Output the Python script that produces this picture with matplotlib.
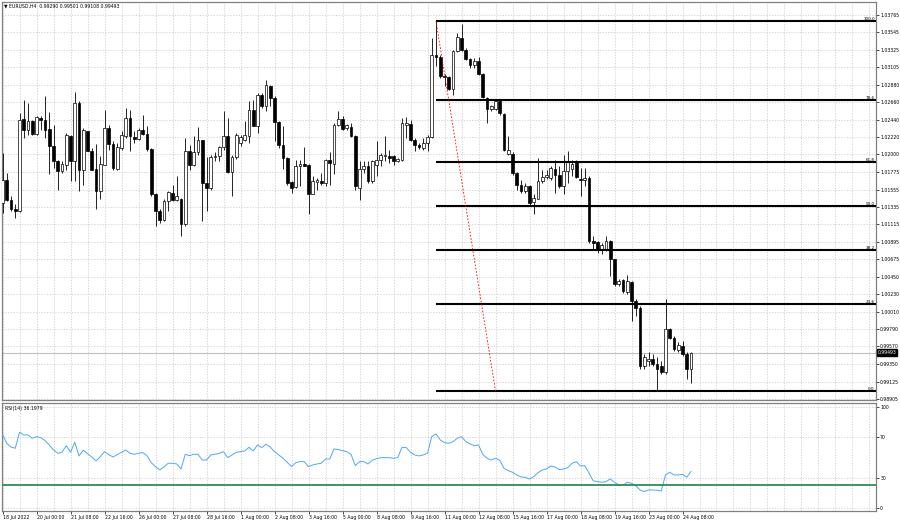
import numpy as np
import matplotlib.pyplot as plt

# EURUSD H4 bars, 18 Jul 2022 16:00 .. 24 Aug 2022 16:00
opens = [1.01388, 1.01682, 1.01417, 1.01304, 1.01283, 1.02448, 1.02305, 1.02419, 1.02259, 1.02461,
         1.02440, 1.02322, 1.02112, 1.01914, 1.01788, 1.01872, 1.02238, 1.01914, 1.02650, 1.01809,
         1.02293, 1.02048, 1.01817, 1.01535, 1.01872, 1.02335, 1.02137, 1.01817, 1.02078, 1.02229,
         1.02461, 1.02217, 1.02200, 1.02305, 1.02259, 1.02074, 1.01493, 1.01283, 1.01169, 1.01409,
         1.01514, 1.01421, 1.01438, 1.01114, 1.02040, 1.01872, 1.02027, 1.02179, 1.01640, 1.01577,
         1.01968, 1.01985, 1.02095, 1.02229, 1.01775, 1.01968, 1.02140, 1.02187, 1.02238, 1.02566,
         1.02364, 1.02755, 1.02608, 1.02869, 1.02713, 1.02406, 1.02124, 1.01956, 1.01649, 1.01590,
         1.01851, 1.01880, 1.01872, 1.01502, 1.01649, 1.01661, 1.01640, 1.01926, 1.01884, 1.02377,
         1.02448, 1.02330, 1.02347, 1.02237, 1.01577, 1.01817, 1.01850, 1.01661, 1.01871, 1.01926,
         1.01985, 1.01985, 1.01977, 1.01922, 1.01934, 1.02376, 1.02389, 1.02187, 1.02124, 1.02082,
         1.02145, 1.02221, 1.03260, 1.03239, 1.02995, 1.02974, 1.02826, 1.03315, 1.03470, 1.03323,
         1.03205, 1.03134, 1.03188, 1.03020, 1.02713, 1.02574, 1.02574, 1.02671, 1.02515, 1.02010,
         1.02010, 1.01766, 1.01619, 1.01535, 1.01598, 1.01396, 1.01438, 1.01661, 1.01716, 1.01703,
         1.01817, 1.01745, 1.01598, 1.01787, 1.01817, 1.01914, 1.01690, 1.01682, 1.01703, 1.00904,
         1.00891, 1.00798, 1.00798, 1.00904, 1.00672, 1.00357, 1.00411, 1.00260, 1.00386, 1.00146,
         1.00062, 0.99326, 0.99389, 0.99410, 0.99347, 0.99326, 0.99241, 0.99788, 0.99683, 0.99528,
         0.99578, 0.99473, 0.99290]
highs = [1.02019, 1.01767, 1.01480, 1.01367, 1.02524, 1.02692, 1.02650, 1.02440, 1.02482, 1.02482,
         1.02734, 1.02532, 1.02377, 1.01935, 1.01914, 1.02271, 1.02250, 1.02785, 1.02671, 1.02335,
         1.02301, 1.02082, 1.02137, 1.01985, 1.02566, 1.02377, 1.02166, 1.02145, 1.02292, 1.02587,
         1.02566, 1.02292, 1.02335, 1.02503, 1.02356, 1.02082, 1.01514, 1.01304, 1.01430, 1.01535,
         1.01619, 1.01724, 1.01445, 1.02208, 1.02124, 1.02238, 1.02347, 1.02187, 1.01968, 1.01998,
         1.02027, 1.02112, 1.02545, 1.02461, 1.01998, 1.02271, 1.02250, 1.02419, 1.02671, 1.02692,
         1.02776, 1.02776, 1.02945, 1.02882, 1.02734, 1.02419, 1.02364, 1.01968, 1.01661, 1.01926,
         1.01935, 1.02095, 1.01880, 1.01733, 1.01703, 1.01767, 1.01943, 1.02027, 1.02398, 1.02545,
         1.02482, 1.02390, 1.02397, 1.02250, 1.01914, 1.01914, 1.01914, 1.01934, 1.02166, 1.02019,
         1.02229, 1.02061, 1.01998, 1.01955, 1.02460, 1.02473, 1.02439, 1.02208, 1.02145, 1.02208,
         1.02250, 1.03470, 1.03689, 1.03260, 1.03020, 1.02987, 1.03323, 1.03533, 1.03651, 1.03344,
         1.03218, 1.03218, 1.03239, 1.03028, 1.02726, 1.02630, 1.02683, 1.02683, 1.02524, 1.02229,
         1.02027, 1.01775, 1.01682, 1.01640, 1.01619, 1.01493, 1.01956, 1.01808, 1.01808, 1.01850,
         1.01935, 1.01850, 1.01998, 1.02040, 1.01935, 1.01935, 1.01829, 1.01829, 1.01724, 1.00967,
         1.00904, 1.00883, 1.00967, 1.00912, 1.00680, 1.00420, 1.00420, 1.00470, 1.00399, 1.00167,
         1.00083, 0.99473, 0.99494, 0.99473, 0.99431, 0.99389, 1.00173, 0.99809, 0.99704, 0.99620,
         0.99641, 0.99494, 0.99501]
lows = [1.01262, 1.01409, 1.01283, 1.01198, 1.01270, 1.02208, 1.02250, 1.02242, 1.02242, 1.02314,
        1.02208, 1.01746, 1.01830, 1.01556, 1.01767, 1.01809, 1.01661, 1.01661, 1.01535, 1.01619,
        1.02040, 1.01800, 1.01304, 1.01430, 1.01860, 1.02061, 1.01809, 1.01800, 1.02061, 1.02208,
        1.02040, 1.02145, 1.02187, 1.02250, 1.02040, 1.01472, 1.01093, 1.01135, 1.01156, 1.01283,
        1.01409, 1.01409, 1.00967, 1.01093, 1.01809, 1.01850, 1.01998, 1.01156, 1.01283, 1.01556,
        1.01914, 1.01914, 1.02061, 1.01767, 1.01472, 1.01943, 1.02103, 1.02166, 1.02145, 1.02356,
        1.02271, 1.02587, 1.02545, 1.02616, 1.02166, 1.02082, 1.01817, 1.01619, 1.01514, 1.01577,
        1.01598, 1.01850, 1.01241, 1.01493, 1.01556, 1.01619, 1.01598, 1.01607, 1.01746, 1.02356,
        1.02314, 1.02310, 1.02221, 1.01556, 1.01429, 1.01766, 1.01640, 1.01640, 1.01724, 1.01850,
        1.01914, 1.01890, 1.01871, 1.01900, 1.01914, 1.02208, 1.02166, 1.02040, 1.02070, 1.02061,
        1.02040, 1.02208, 1.03113, 1.02966, 1.02860, 1.02818, 1.02755, 1.03300, 1.03315, 1.03190,
        1.03092, 1.03092, 1.03007, 1.02713, 1.02397, 1.02545, 1.02560, 1.02502, 1.02040, 1.01998,
        1.01745, 1.01556, 1.01514, 1.01514, 1.01366, 1.01240, 1.01430, 1.01640, 1.01690, 1.01682,
        1.01514, 1.01577, 1.01493, 1.01640, 1.01724, 1.01703, 1.01472, 1.01598, 1.00883, 1.00798,
        1.00756, 1.00735, 1.00777, 1.00462, 1.00335, 1.00335, 1.00251, 1.00230, 0.99894, 0.99957,
        0.99283, 0.99283, 0.99326, 0.99326, 0.99010, 0.99220, 0.99220, 0.99662, 0.99515, 0.99494,
        0.99452, 0.99157, 0.99108]
closes = [1.01682, 1.01421, 1.01304, 1.01283, 1.02440, 1.02305, 1.02419, 1.02259, 1.02473, 1.02440,
          1.02314, 1.02112, 1.01914, 1.01796, 1.01880, 1.02250, 1.01914, 1.02650, 1.01809, 1.02314,
          1.02048, 1.01809, 1.01535, 1.01880, 1.02335, 1.02137, 1.01825, 1.02095, 1.02242, 1.02461,
          1.02229, 1.02196, 1.02314, 1.02259, 1.02074, 1.01493, 1.01283, 1.01169, 1.01409, 1.01522,
          1.01421, 1.01480, 1.01114, 1.02048, 1.01872, 1.02027, 1.02179, 1.01640, 1.01577, 1.01968,
          1.01985, 1.02095, 1.02229, 1.01775, 1.01968, 1.02250, 1.02217, 1.02250, 1.02566, 1.02364,
          1.02755, 1.02608, 1.02882, 1.02713, 1.02406, 1.02124, 1.01956, 1.01640, 1.01577, 1.01859,
          1.01880, 1.01859, 1.01502, 1.01661, 1.01670, 1.01640, 1.01926, 1.01893, 1.02377, 1.02448,
          1.02322, 1.02368, 1.02237, 1.01598, 1.01817, 1.01850, 1.01661, 1.01914, 1.01934, 1.01998,
          1.01998, 1.01955, 1.01914, 1.01947, 1.02397, 1.02397, 1.02187, 1.02124, 1.02094, 1.02145,
          1.02221, 1.03260, 1.03239, 1.02995, 1.02974, 1.02826, 1.03315, 1.03491, 1.03323, 1.03205,
          1.03134, 1.03188, 1.03020, 1.02726, 1.02574, 1.02608, 1.02671, 1.02524, 1.02061, 1.02061,
          1.01766, 1.01619, 1.01535, 1.01598, 1.01387, 1.01451, 1.01661, 1.01716, 1.01745, 1.01829,
          1.01745, 1.01598, 1.01787, 1.01914, 1.01884, 1.01716, 1.01682, 1.01699, 1.00904, 1.00875,
          1.00798, 1.00849, 1.00904, 1.00672, 1.00357, 1.00399, 1.00272, 1.00399, 1.00146, 1.00062,
          0.99326, 0.99431, 0.99410, 0.99347, 0.99283, 0.99241, 0.99788, 0.99683, 0.99536, 0.99586,
          0.99473, 0.99283, 0.99493]

rsi = [72.8, 63.9, 60.3, 59.0, 74.8, 72.2, 72.2, 68.9, 70.5, 69.5,
       66.6, 62.3, 57.4, 54.1, 55.1, 61.6, 55.1, 64.9, 51.5, 57.1,
       53.8, 50.5, 46.6, 50.8, 55.7, 52.8, 50.5, 52.8, 55.1, 57.4,
       54.1, 53.1, 54.1, 54.8, 51.8, 44.9, 41.0, 37.7, 40.7, 44.3,
       44.3, 43.6, 38.7, 53.1, 51.8, 53.1, 53.1, 47.5, 47.5, 52.5,
       53.1, 54.1, 55.7, 49.8, 52.5, 55.1, 55.7, 56.4, 60.0, 56.4,
       62.3, 59.7, 63.0, 60.3, 55.7, 52.5, 49.2, 45.2, 41.0, 44.9,
       45.9, 45.9, 41.0, 42.6, 43.6, 44.3, 48.5, 48.5, 58.4, 57.7,
       56.7, 55.7, 53.1, 42.0, 45.9, 45.9, 43.6, 47.2, 48.8, 49.8,
       49.8, 49.8, 49.2, 49.8, 60.0, 59.7, 55.1, 52.5, 51.5, 52.5,
       54.1, 70.5, 73.1, 67.2, 64.6, 63.9, 65.6, 68.9, 70.5, 65.6,
       63.3, 61.6, 62.3, 53.1, 49.2, 47.5, 49.2, 47.2, 39.3, 37.0,
       35.4, 32.8, 30.8, 30.5, 28.8, 31.1, 35.1, 37.7, 38.7, 41.6,
       40.6, 38.0, 38.7, 40.0, 44.3, 45.9, 41.6, 42.0, 34.4, 26.9,
       26.2, 25.6, 26.2, 28.8, 25.6, 22.9, 22.3, 25.6, 24.6, 22.3,
       18.0, 16.4, 18.0, 18.0, 17.7, 17.0, 32.8, 35.4, 32.8, 32.8,
       33.4, 30.5, 36.2]

price_ticks = [1.03765, 1.03545, 1.03325, 1.03105, 1.02880, 1.02660, 1.02440, 1.02220, 1.02000,
               1.01775, 1.01555, 1.01335, 1.01115, 1.00895, 1.00675, 1.00450, 1.00230, 1.00010,
               0.99790, 0.99570, 0.99350, 0.99125, 0.98905]
rsi_ticks = [100, 70, 30, 0]
time_labels = ["18 Jul 2022", "20 Jul 00:00", "21 Jul 08:00", "22 Jul 16:00", "26 Jul 00:00",
               "27 Jul 08:00", "28 Jul 16:00", "1 Aug 00:00", "2 Aug 08:00", "3 Aug 16:00",
               "5 Aug 00:00", "8 Aug 08:00", "9 Aug 16:00", "11 Aug 00:00", "12 Aug 08:00",
               "15 Aug 16:00", "17 Aug 00:00", "18 Aug 08:00", "19 Aug 16:00", "23 Aug 00:00",
               "24 Aug 08:00"]

fib_ratios = [0.0, 0.236, 0.382, 0.5, 0.618, 0.786, 1.0]
fib_high, fib_low = 1.03689, 0.99006
fib_start, fib_end = 102, 116
rsi_level = 23
bid = closes[-1]

fs = 3.3
grid_kw = dict(color='#c8c8c8', linestyle=(0, (2, 2)), linewidth=0.5)

fig = plt.figure(figsize=(9, 5.23), dpi=100)
fig.patch.set_facecolor('white')
ax = fig.add_axes([2 / 900, 123 / 523, 874 / 900, 398 / 523])
ax2 = fig.add_axes([2 / 900, 12 / 523, 874 / 900, 108 / 523])

n = len(closes)
x = np.arange(n)
xmin, xmax = -0.12, 205.53

# candles
o = np.array(opens)
c = np.array(closes)
ax.vlines(x, lows, highs, color='black', lw=0.6, zorder=3)
bull = c >= o
body = np.maximum(np.abs(c - o), 0.00003)
ax.bar(x, body, bottom=np.minimum(o, c), width=0.7,
       color=np.where(bull, 'white', 'black'), edgecolor='black', lw=0.5, zorder=4)

# bid line
ax.axhline(bid, color='#c0c0c0', lw=0.8, zorder=1)

# fibonacci retracement
for r in fib_ratios:
    lvl = fib_low + r * (fib_high - fib_low)
    ax.hlines(lvl, fib_start, xmax, color='black', lw=1.5, zorder=5)
    ax.text(xmax - 0.3, lvl, f"{r * 100:.1f}", ha='right', va='bottom', fontsize=fs - 0.3)
ax.plot([fib_start, fib_end], [fib_high, fib_low], color='red', ls=(0, (2, 2)), lw=0.6, zorder=5)

ax.set_xlim(xmin, xmax)
ax.set_ylim(0.98905 - 0.00013, 1.03765 + 13 * 0.00012623)
ax.set_yticks(price_ticks)
ax.set_yticklabels([f"{p:.5f}" for p in price_ticks])
ax.set_xticks(np.arange(0, 206, 4))
ax.tick_params(axis='x', bottom=False, labelbottom=False)
ax.yaxis.tick_right()
ax.tick_params(axis='y', labelsize=fs, length=2, width=0.5, pad=1)
ax.grid(True, **grid_kw)
ax.set_axisbelow(True)

# price tag
ax.text(1.002, bid, f"{bid:.5f}", transform=ax.get_yaxis_transform(), ha='left', va='center',
        fontsize=fs, color='white', bbox=dict(facecolor='black', edgecolor='black', pad=0.6))

# RSI panel
ax2.plot(x, rsi, color='#4da6ff', lw=0.7, zorder=3)
ax2.axhline(rsi_level, color='#2e8b57', lw=1.3, zorder=4)
ax2.set_xlim(xmin, xmax)
ax2.set_ylim(-2.7, 103.6)
ax2.set_yticks(rsi_ticks)
ax2.yaxis.tick_right()
ax2.tick_params(axis='y', labelsize=fs, length=2, width=0.5, pad=1)
ax2.set_xticks(np.arange(0, 206, 4), minor=True)
ax2.set_xticks(np.arange(len(time_labels)) * 8)
ax2.set_xticklabels(time_labels, ha='left')
ax2.tick_params(axis='x', labelsize=fs, length=2, width=0.5, pad=1)
ax2.tick_params(axis='x', which='minor', length=0)
ax2.grid(True, which='both', **grid_kw)
ax2.set_axisbelow(True)
ax2.text(0.003, 0.975, "RSI(14) 36.1979", transform=ax2.transAxes, ha='left', va='top', fontsize=fs)

for a in (ax, ax2):
    for s in a.spines.values():
        s.set_color('#808080')
        s.set_linewidth(0.9)

fig.text(4 / 900, 1 - 5.5 / 523, "\u25bc EURUSD,H4  0.99290 0.99501 0.99108 0.99493",
         ha='left', va='center', fontsize=fs)

fig.savefig('out.png', dpi=100)
